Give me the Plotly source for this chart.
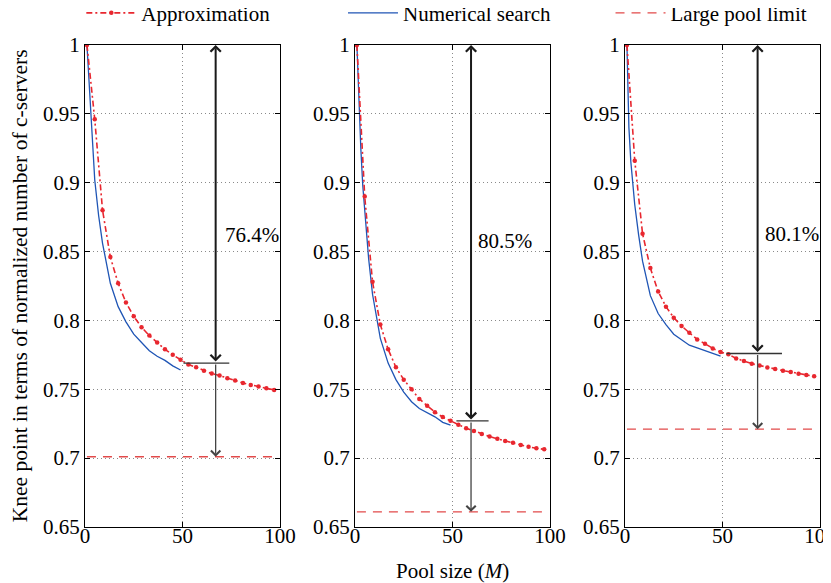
import plotly.graph_objects as go

# ---------------- data ----------------
M_search = [1, 2, 3, 4, 5, 7, 9, 13, 17, 21, 25, 29, 33, 37, 41, 45, 49]
M_approx = [1, 5, 9, 13, 17, 21, 25, 29, 33, 37, 41, 45, 49, 53, 57, 61, 65,
            69, 73, 77, 81, 85, 89, 93, 97]

search_1 = [1.0, 0.975, 0.951, 0.925, 0.902, 0.876, 0.856, 0.827, 0.810, 0.799,
            0.790, 0.784, 0.778, 0.774, 0.771, 0.767, 0.764]
search_2 = [1.0, 0.955, 0.925, 0.898, 0.879, 0.845, 0.819, 0.787, 0.769, 0.757,
            0.748, 0.741, 0.736, 0.733, 0.730, 0.726, 0.724]
search_3 = [1.0, 0.940, 0.915, 0.897, 0.884, 0.862, 0.843, 0.818, 0.805, 0.797,
            0.790, 0.786, 0.782, 0.780, 0.778, 0.776, 0.774]

approx_1 = [1.0, 0.946, 0.880, 0.846, 0.827, 0.813, 0.803, 0.795, 0.789, 0.784,
            0.779, 0.775, 0.7715, 0.768, 0.766, 0.7635, 0.7614, 0.760, 0.758,
            0.7563, 0.7546, 0.7531, 0.752, 0.7507, 0.7495]
approx_2 = [1.0, 0.890, 0.828, 0.797, 0.779, 0.766, 0.757, 0.750, 0.743, 0.738,
            0.7334, 0.7298, 0.7271, 0.7242, 0.7217, 0.7198, 0.7176, 0.7157,
            0.714, 0.7125, 0.7111, 0.7096, 0.7082, 0.7072, 0.7064]
approx_3 = [1.0, 0.916, 0.863, 0.838, 0.821, 0.810, 0.802, 0.796, 0.791, 0.7862,
            0.7831, 0.7797, 0.7771, 0.7754, 0.7724, 0.7705, 0.7686, 0.7673,
            0.7659, 0.7647, 0.7635, 0.7626, 0.7613, 0.7604, 0.7594]

pool_limit = [0.701, 0.661, 0.721]
knee_ref = [0.769, 0.727, 0.776]          # level of horizontal marker
knee_seg = [[50.5, 74], [52, 68.5], [52, 80.5]]
arrow_M = [67, 59.5, 68]
pct_labels = ["76.4%", "80.5%", "80.1%"]
pct_pos = [[71, 0.862], [62, 0.858], [71, 0.863]]

x_ticks = [0, 50, 100]
y_ticks = [0.65, 0.7, 0.75, 0.8, 0.85, 0.9, 0.95, 1.0]
y_ticktext = ["0.65", "0.7", "0.75", "0.8", "0.85", "0.9", "0.95", "1"]

legend_names = ["Approximation", "Numerical search", "Large pool limit"]

# ---------------- styles ----------------
RED = "#e8272f"
BLUE = "#1f55b5"
FONT = "Liberation Serif"

fig = go.Figure()
searches = [search_1, search_2, search_3]
approxes = [approx_1, approx_2, approx_3]

for i in range(3):
    xa = "x" if i == 0 else f"x{i+1}"
    ya = "y" if i == 0 else f"y{i+1}"
    first = (i == 0)
    fig.add_trace(go.Scatter(
        x=[M_approx[0], M_approx[-1]], y=[pool_limit[i]] * 2, mode="lines",
        line=dict(color="#e24a4a", width=1.3, dash="9px,7px"),
        name=legend_names[2], legend="legend3", showlegend=first,
        xaxis=xa, yaxis=ya))
    fig.add_trace(go.Scatter(
        x=M_search, y=searches[i], mode="lines",
        line=dict(color=BLUE, width=1.3),
        name=legend_names[1], legend="legend2", showlegend=first,
        xaxis=xa, yaxis=ya))
    fig.add_trace(go.Scatter(
        x=M_approx, y=approxes[i], mode="lines+markers",
        line=dict(color=RED, width=1.6, dash="6px,3px,2px,3px"),
        marker=dict(color=RED, size=4.5),
        name=legend_names[0], legend="legend", showlegend=first,
        xaxis=xa, yaxis=ya))
    fig.add_trace(go.Scatter(
        x=knee_seg[i], y=[knee_ref[i]] * 2, mode="lines",
        line=dict(color="#333333", width=1.3), showlegend=False,
        hoverinfo="skip", xaxis=xa, yaxis=ya))

annotations = []
for i in range(3):
    xr = "x" if i == 0 else f"x{i+1}"
    yr = "y" if i == 0 else f"y{i+1}"
    annotations.append(dict(
        x=arrow_M[i], y=1.0, ax=arrow_M[i], ay=knee_ref[i],
        xref=xr, yref=yr, axref=xr, ayref=yr, text="", showarrow=True,
        arrowhead=4, startarrowhead=4, arrowside="end+start",
        arrowwidth=2, arrowsize=1.0, startarrowsize=1.0, arrowcolor="#1a1a1a"))
    annotations.append(dict(
        x=arrow_M[i], y=pool_limit[i], ax=arrow_M[i], ay=knee_ref[i],
        xref=xr, yref=yr, axref=xr, ayref=yr, text="", showarrow=True,
        arrowhead=4, arrowwidth=1.3, arrowsize=1.4, arrowcolor="#444444"))
    annotations.append(dict(
        x=pct_pos[i][0], y=pct_pos[i][1], xref=xr, yref=yr, text=pct_labels[i],
        showarrow=False, xanchor="left", yanchor="middle",
        font=dict(size=21, family=FONT, color="black")))

annotations.append(dict(
    x=-0.088, y=0.5, xref="paper", yref="paper", textangle=-90,
    text="Knee point in terms of normalized number of c-servers",
    showarrow=False, xanchor="center", yanchor="middle",
    font=dict(size=21.5, family=FONT, color="black")))
annotations.append(dict(
    x=0.5, y=-0.091, xref="paper", yref="paper", text="Pool size (<i>M</i>)",
    showarrow=False, xanchor="center", yanchor="middle",
    font=dict(size=21, family=FONT, color="black")))

axis_common = dict(showline=True, linecolor="black", linewidth=1, mirror="ticks",
                   ticks="inside", ticklen=5, tickcolor="black",
                   showgrid=True, gridcolor="#8a8a8a", griddash="1px,3px", gridwidth=1,
                   zeroline=False, tickfont=dict(size=21, family=FONT, color="black"))

domains = [[0.0, 0.2653], [0.3673, 0.6327], [0.7347, 1.0]]
leg_common = dict(y=1.066, xanchor="left", yanchor="middle",
                  bgcolor="rgba(0,0,0,0)", font=dict(size=21, family=FONT, color="black"),
                  itemwidth=50)
layout = dict(
    width=831, height=583,
    margin=dict(l=77, r=19, t=37, b=64, autoexpand=False),
    plot_bgcolor="white", paper_bgcolor="white",
    font=dict(family=FONT, size=21, color="black"),
    annotations=annotations,
    legend=dict(x=-0.005, **leg_common),
    legend2=dict(x=0.351, **leg_common),
    legend3=dict(x=0.715, **leg_common),
)
for i in range(3):
    xk = "xaxis" if i == 0 else f"xaxis{i+1}"
    yk = "yaxis" if i == 0 else f"yaxis{i+1}"
    ya = "y" if i == 0 else f"y{i+1}"
    xa = "x" if i == 0 else f"x{i+1}"
    layout[xk] = dict(domain=domains[i], anchor=ya, range=[0, 100],
                      tickvals=x_ticks, ticklabelstandoff=-10, **axis_common)
    layout[yk] = dict(domain=[0, 1], anchor=xa, range=[0.65, 1.0],
                      tickvals=y_ticks, ticktext=y_ticktext, **axis_common)

fig.update_layout(**layout)
fig.write_html("out.html")
